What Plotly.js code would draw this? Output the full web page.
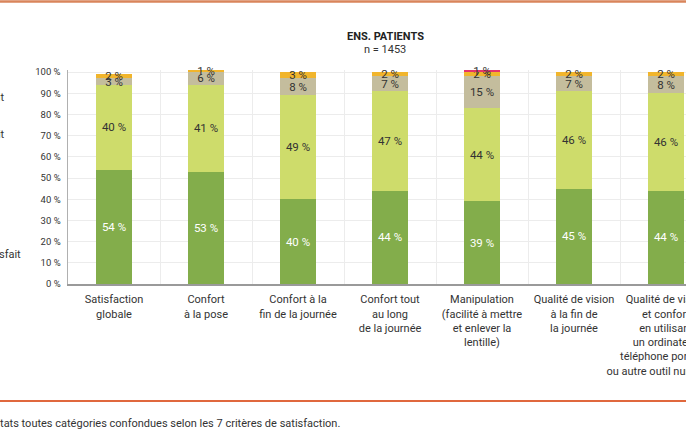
<!DOCTYPE html>
<html>
<head>
<meta charset="utf-8">
<script src="https://cdn.plot.ly/plotly-3.0.1.min.js"></script>
<style>
html,body{margin:0;padding:0;overflow:hidden;background:#fff;}
#chart{width:760px;height:430px;}
</style>
</head>
<body>
<div id="chart"></div>
<script>
const categories = [
  "Satisfaction<br>globale",
  "Confort<br>à la pose",
  "Confort à la<br>fin de la journée",
  "Confort tout<br>au long<br>de la journée",
  "Manipulation<br>(facilité à mettre<br>et enlever la<br>lentille)",
  "Qualité de vision<br>à la fin de<br>la journée",
  "Qualité de vision<br>et confort<br>en utilisant<br>un ordinateur,<br>téléphone portable<br>ou autre outil numérique"
];
const tresSatisfait   = [54, 53, 40, 44, 39, 45, 44];
const satisfait       = [40, 41, 49, 47, 44, 46, 46];
const peuSatisfait    = [3, 6, 8, 7, 15, 7, 8];
const pasSatisfait    = [2, 1, 3, 2, 2, 2, 2];
const pasDuToutSatisf = [0, 0, 0, 0, 1, 0, 0];
const yTicks = [0,10,20,30,40,50,60,70,80,90,100];

const FONT = "Roboto, 'DejaVu Sans', sans-serif";
const txt = v => v.map(x => x > 0 ? x + " %" : "");

function series(name, vals, color, textColor) {
  return {
    type: "bar", name: name, x: categories, y: vals,
    marker: {color: color, line: {width: 0}},
    text: txt(vals), textposition: "inside", insidetextanchor: "middle",
    constraintext: "none", textangle: 0, cliponaxis: false,
    textfont: {family: FONT, size: 11.5, color: textColor},
    hoverinfo: "skip"
  };
}

const data = [
  series("Très satisfait", tresSatisfait, "#83ad4b", "#ffffff"),
  series("Satisfait", satisfait, "#cedc6b", "#333333"),
  series("Peu satisfait", peuSatisfait, "#c4bd9d", "#333333"),
  series("Pas satisfait", pasSatisfait, "#f1b52c", "#333333"),
  series("Pas du tout satisfait", pasDuToutSatisf, "#e5336b", "#333333")
];

const L = 68, PW = 644, T = 70, B = 284, PH = B - T;
const px = p => (p - L) / PW;
const py = p => (B - p) / PH;

const layout = {
  width: 760, height: 430,
  margin: {l: L, r: 760 - L - PW, t: T, b: 430 - B, pad: 0},
  paper_bgcolor: "#ffffff", plot_bgcolor: "#ffffff",
  barmode: "stack", bargap: 0.61,
  showlegend: false,
  font: {family: FONT, size: 11, color: "#333333"},
  xaxis: {
    type: "category", tickson: "boundaries",
    showgrid: true, gridcolor: "#ececec", gridwidth: 1,
    showline: true, linecolor: "#9a9a9a", linewidth: 2,
    ticks: "", ticklabelstandoff: 4,
    tickfont: {family: FONT, size: 11, color: "#333333"},
    tickangle: 0, automargin: false, fixedrange: true
  },
  yaxis: {
    range: [0, 101], tickvals: yTicks, ticktext: yTicks.map(v => v + " %"),
    showgrid: true, gridcolor: "#ececec", gridwidth: 1,
    showline: true, linecolor: "#b0b0b0", linewidth: 1.5,
    zeroline: false, ticks: "", ticklabelstandoff: 4,
    tickfont: {family: FONT, size: 9.5, color: "#333333"},
    automargin: false, fixedrange: true
  },
  shapes: [
    {type: "line", xref: "paper", yref: "paper", x0: px(-20), x1: px(780), y0: py(1.5), y1: py(1.5),
     line: {color: "#d9855b", width: 2.5}},
    {type: "line", xref: "paper", yref: "paper", x0: px(-20), x1: px(780), y0: py(401), y1: py(401),
     line: {color: "#e0683d", width: 2}}
  ],
  annotations: [
    {text: "<b>ENS. PATIENTS</b>", xref: "paper", yref: "paper", x: px(385), y: py(37),
     xanchor: "center", yanchor: "middle", showarrow: false, font: {family: FONT, size: 11, color: "#222"}},
    {text: "n = 1453", xref: "paper", yref: "paper", x: px(385), y: py(49.5),
     xanchor: "center", yanchor: "middle", showarrow: false, font: {family: FONT, size: 11, color: "#333"}},
    {text: "Pas du tout satisfait", xref: "paper", yref: "paper", x: px(7), y: py(97),
     xanchor: "right", yanchor: "middle", showarrow: false, font: {family: FONT, size: 11, color: "#333"}},
    {text: "Peu satisfait", xref: "paper", yref: "paper", x: px(7), y: py(134),
     xanchor: "right", yanchor: "middle", showarrow: false, font: {family: FONT, size: 11, color: "#333"}},
    {text: "Très satisfait", xref: "paper", yref: "paper", x: px(23), y: py(254),
     xanchor: "right", yanchor: "middle", showarrow: false, font: {family: FONT, size: 11, color: "#333"}},
    {text: "Résultats toutes catégories confondues selon les 7 critères de satisfaction.", xref: "paper", yref: "paper",
     x: px(342), y: py(423), xanchor: "right", yanchor: "middle", showarrow: false,
     font: {family: FONT, size: 11, color: "#333"}}
  ]
};

Plotly.newPlot("chart", data, layout, {displayModeBar: false, staticPlot: true});
</script>
</body>
</html>
